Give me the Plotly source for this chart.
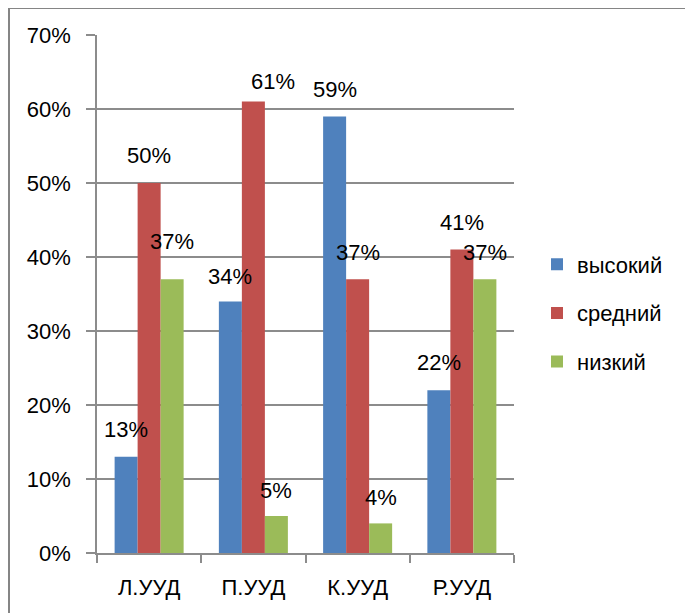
import plotly.graph_objects as go

# ---- data ----
categories = ["Л.УУД", "П.УУД", "К.УУД", "Р.УУД"]
series_names = ["высокий", "средний", "низкий"]
high = [0.13, 0.34, 0.59, 0.22]
mid = [0.50, 0.61, 0.37, 0.41]
low = [0.37, 0.05, 0.04, 0.37]
y_ticks = [0, 0.1, 0.2, 0.3, 0.4, 0.5, 0.6, 0.7]

# label placement (pixel lift above the bar top, per series / category)
lift_high = [27, 25, 27, 28]
lift_mid = [28, 20, 27, 27]
lift_low = [38, 26, 26, 27]
nudge_mid = [0, 20, 0, 0]
nudge_zero = [0, 0, 0, 0]

colors = ["#4F81BD", "#C0504D", "#9BBB59"]
FONT = "Liberation Sans"
FS = 22

# page body has an 8px margin, so the figure is drawn 8px in from the corner
OFF = 8
W, H = 693 - OFF, 613 - OFF
ML, MR, MT, MB = 97 - OFF, 179, 35 - OFF, 60
plot_w = W - ML - MR
plot_h = H - MT - MB
bargap = 0.338
cat_px = plot_w / len(categories)
bar_px = cat_px * (1 - bargap) / 3

fig = go.Figure()
values = [high, mid, low]
for i, (name, vals, col) in enumerate(zip(series_names, values, colors)):
    fig.add_trace(go.Bar(
        x=categories, y=vals, name=name, marker_color=col,
        marker_line_width=0, legendgroup=name,
    ))

lifts = [lift_high, lift_mid, lift_low]
nudges = [nudge_zero, nudge_mid, nudge_zero]
for i, vals in enumerate(values):
    for j, v in enumerate(vals):
        fig.add_annotation(
            x=categories[j], y=v, xref="x", yref="y",
            text=f"{round(v*100)}%", showarrow=False,
            xshift=(i - 1) * bar_px + nudges[i][j], yshift=lifts[i][j],
            xanchor="center", yanchor="middle",
            font=dict(family=FONT, size=FS, color="black"),
        )

# page pixel -> paper coordinate
def px_x(px):
    return (px - OFF - ML) / plot_w

def px_y(py):
    return (H - MB - (py - OFF)) / plot_h

# outer frame (left and top edges visible)
fig.add_shape(type="line", xref="paper", yref="paper",
              x0=px_x(9), x1=px_x(9), y0=px_y(640), y1=px_y(8),
              line=dict(color="#858585", width=2))
fig.add_shape(type="line", xref="paper", yref="paper",
              x0=px_x(8), x1=px_x(720), y0=px_y(8), y1=px_y(8),
              line=dict(color="#858585", width=2))

fig.update_layout(
    width=W, height=H,
    margin=dict(l=ML, r=MR, t=MT, b=MB, pad=0),
    paper_bgcolor="white", plot_bgcolor="white",
    barmode="group", bargap=bargap, bargroupgap=0,
    font=dict(family=FONT, size=FS, color="black"),
    showlegend=True,
    legend=dict(
        x=px_x(537), y=px_y(313), xanchor="left", yanchor="middle",
        traceorder="grouped", tracegroupgap=17, itemwidth=30,
        font=dict(family=FONT, size=FS, color="black"),
        bgcolor="rgba(0,0,0,0)",
    ),
    xaxis=dict(
        showline=True, linecolor="#8c8c8c", linewidth=1.5,
        ticks="outside", tickson="boundaries", ticklen=8,
        tickcolor="#8c8c8c", tickwidth=1.5,
        showgrid=False, ticklabelstandoff=14,
        tickfont=dict(family=FONT, size=FS, color="black"),
    ),
    yaxis=dict(
        range=[0, 0.70001], tickvals=y_ticks, tickformat=".0%",
        showline=True, linecolor="#8c8c8c", linewidth=1.5,
        ticks="outside", ticklen=9, tickcolor="#8c8c8c", tickwidth=1.5,
        showgrid=True, gridcolor="#8c8c8c", gridwidth=1.5,
        zeroline=False, ticklabelstandoff=11,
        tickfont=dict(family=FONT, size=FS, color="black"),
    ),
)

fig.write_html("out.html")
